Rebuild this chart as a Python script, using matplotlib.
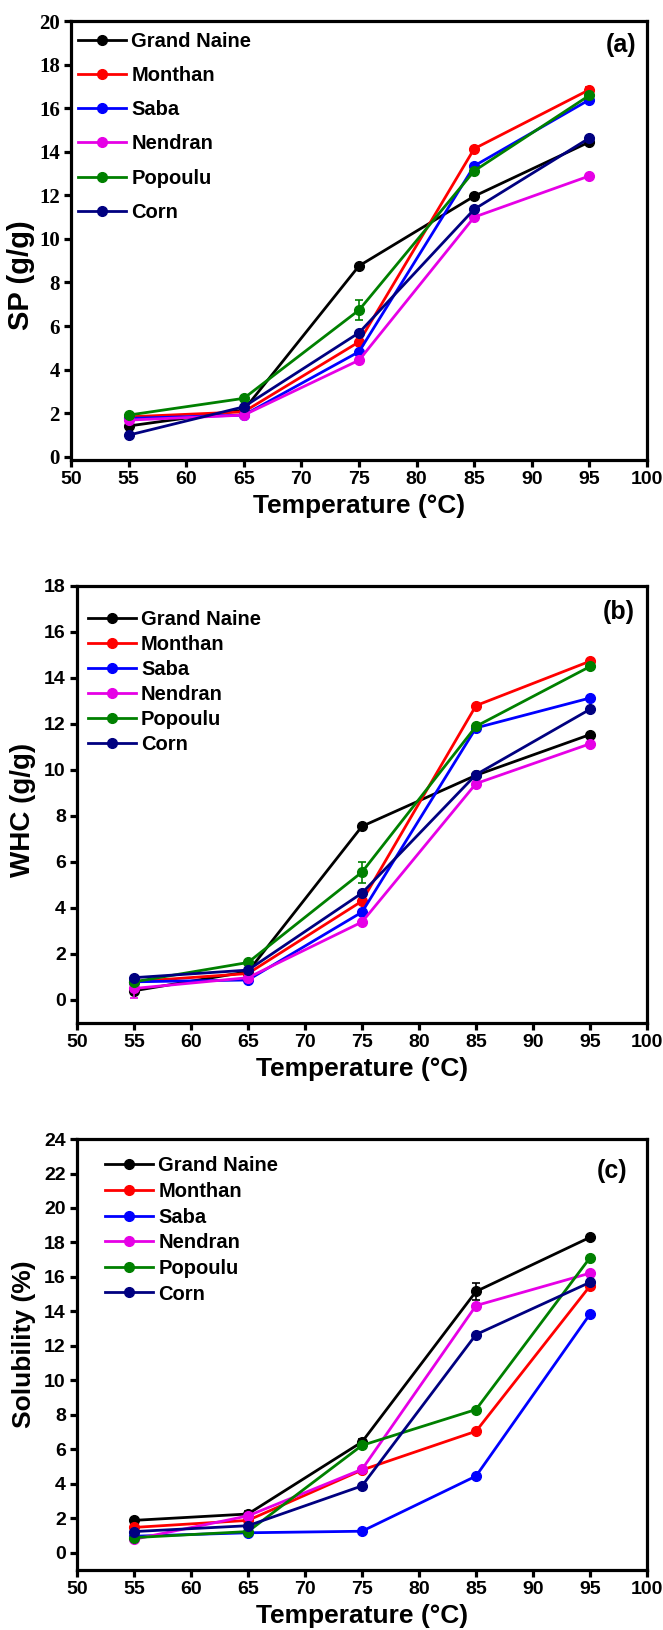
import numpy as np
import matplotlib.pyplot as plt

plt.rcParams['font.family'] = ['Liberation Sans', 'DejaVu Sans']
plt.rcParams['font.weight'] = 'bold'

# DATA
temps = [55, 65, 75, 85, 95]
varieties = ['Grand Naine', 'Monthan', 'Saba', 'Nendran', 'Popoulu', 'Corn']
colors = ['black', '#FF0000', '#0000FF', '#E600E6', '#008000', '#000080']

# swelling power (g/g), rows follow varieties
sp_values = [
    [1.41, 2.14, 8.76, 11.96, 14.45],
    [1.83, 2.06, 5.27, 14.14, 16.85],
    [1.76, 1.91, 4.82, 13.35, 16.39],
    [1.68, 1.91, 4.43, 11.00, 12.89],
    [1.91, 2.68, 6.73, 13.12, 16.59],
    [0.99, 2.29, 5.69, 11.36, 14.63],
]
sp_err = [
    [0.08, 0.10, 0.10, 0.10, 0.10],
    [0.05, 0.10, 0.10, 0.10, 0.10],
    [0.05, 0.05, 0.10, 0.10, 0.10],
    [0.05, 0.05, 0.10, 0.10, 0.05],
    [0.05, 0.05, 0.47, 0.10, 0.10],
    [0.05, 0.05, 0.10, 0.10, 0.10],
]

# water holding capacity (g/g)
whc_values = [
    [0.40, 1.23, 7.55, 9.77, 11.54],
    [0.80, 1.15, 4.30, 12.80, 14.73],
    [0.79, 0.87, 3.82, 11.83, 13.13],
    [0.50, 0.97, 3.39, 9.41, 11.14],
    [0.79, 1.63, 5.56, 11.90, 14.50],
    [0.97, 1.30, 4.65, 9.80, 12.64],
]
whc_err = [
    [0.15, 0.15, 0.05, 0.05, 0.05],
    [0.05, 0.05, 0.10, 0.05, 0.05],
    [0.05, 0.05, 0.10, 0.05, 0.05],
    [0.40, 0.05, 0.10, 0.05, 0.05],
    [0.10, 0.05, 0.46, 0.05, 0.05],
    [0.05, 0.05, 0.10, 0.05, 0.05],
]

# solubility (%)
sol_values = [
    [1.88, 2.25, 6.43, 15.16, 18.30],
    [1.47, 1.88, 4.80, 7.05, 15.48],
    [0.96, 1.16, 1.25, 4.45, 13.85],
    [0.78, 2.14, 4.84, 14.34, 16.22],
    [0.88, 1.23, 6.23, 8.31, 17.12],
    [1.23, 1.57, 3.88, 12.66, 15.69],
]
sol_err = [
    [0.10, 0.20, 0.15, 0.51, 0.15],
    [0.10, 0.10, 0.10, 0.10, 0.10],
    [0.05, 0.05, 0.05, 0.05, 0.05],
    [0.10, 0.10, 0.15, 0.10, 0.10],
    [0.05, 0.05, 0.10, 0.05, 0.10],
    [0.05, 0.05, 0.05, 0.05, 0.05],
]

fig = plt.figure(figsize=(6.63, 16.30), dpi=100)
ax_a = fig.add_axes([0.107, 0.7178, 0.869, 0.2693])
ax_b = fig.add_axes([0.116, 0.3724, 0.860, 0.2681])
ax_c = fig.add_axes([0.116, 0.0368, 0.860, 0.2644])


def draw(ax, values, errs, ylabel, ylim, yticks, letter, letter_xy,
         leg_anchor, leg_spacing, ylabel_xy, serif_y=False, ylabel_size=20):
    for i, name in enumerate(varieties):
        ax.errorbar(temps, values[i], yerr=errs[i], fmt='none', ecolor=colors[i],
                    elinewidth=1.2, capsize=3, capthick=1.2)
        ax.plot(temps, values[i], color=colors[i], marker='o', markersize=7,
                linewidth=2, label=name)
    ax.set_xlim(50, 100)
    ax.set_ylim(*ylim)
    ax.set_xticks(np.arange(50, 101, 5))
    ax.set_yticks(yticks)
    for s in ax.spines.values():
        s.set_linewidth(2.3)
    ax.tick_params(direction='out', length=5, width=2.3, labelsize=14, pad=3)
    if serif_y:
        for lab in ax.get_yticklabels():
            lab.set_fontfamily('Liberation Serif')
            lab.set_fontsize(15)
    ax.set_xlabel('Temperature (\u00b0C)', fontsize=19, fontweight='bold',
                  labelpad=4)
    ax.set_ylabel(ylabel, fontsize=ylabel_size, fontweight='bold')
    ax.yaxis.set_label_coords(*ylabel_xy)
    ax.text(letter_xy[0], letter_xy[1], letter, transform=ax.transAxes,
            fontsize=18, fontweight='bold', ha='center', va='center')
    ax.legend(loc='upper left', bbox_to_anchor=leg_anchor, frameon=False,
              fontsize=14.5, handlelength=2.4, handletextpad=0.25,
              labelspacing=leg_spacing, borderpad=0, borderaxespad=0)


draw(ax_a, sp_values, sp_err, 'SP (g/g)', (-0.15, 20), np.arange(0, 21, 2),
     '(a)', (0.955, 0.945), (0.012, 0.976), 0.76, (-0.062, 0.42),
     serif_y=True, ylabel_size=21)
draw(ax_b, whc_values, whc_err, 'WHC (g/g)', (-1, 18), np.arange(0, 19, 2),
     '(b)', (0.951, 0.94), (0.019, 0.945), 0.3, (-0.072, 0.487))
draw(ax_c, sol_values, sol_err, 'Solubility (%)', (-1, 24), np.arange(0, 25, 2),
     '(c)', (0.939, 0.926), (0.049, 0.96), 0.33, (-0.072, 0.524),
     ylabel_size=19)

fig.savefig('out.png', dpi=100)
